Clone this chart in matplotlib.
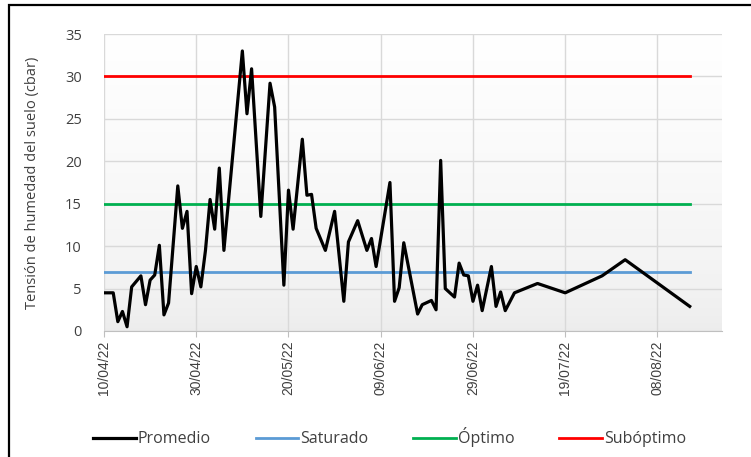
import matplotlib
matplotlib.use("Agg")
import matplotlib.pyplot as plt
import matplotlib.dates as mdates
from matplotlib.patches import Rectangle
import numpy as np
import pandas as pd

# datos
fechas = ["2022-04-10", "2022-04-12", "2022-04-13", "2022-04-14", "2022-04-15", "2022-04-16",
          "2022-04-18", "2022-04-19", "2022-04-20", "2022-04-21", "2022-04-22", "2022-04-23",
          "2022-04-24", "2022-04-26", "2022-04-27", "2022-04-28", "2022-04-29", "2022-04-30",
          "2022-05-01", "2022-05-02", "2022-05-03", "2022-05-04", "2022-05-05", "2022-05-06",
          "2022-05-10", "2022-05-11", "2022-05-12", "2022-05-14", "2022-05-16", "2022-05-17",
          "2022-05-19", "2022-05-20", "2022-05-21", "2022-05-23", "2022-05-24", "2022-05-25",
          "2022-05-26", "2022-05-28", "2022-05-30", "2022-06-01", "2022-06-02", "2022-06-04",
          "2022-06-06", "2022-06-07", "2022-06-08", "2022-06-11", "2022-06-12", "2022-06-13",
          "2022-06-14", "2022-06-17", "2022-06-18", "2022-06-20", "2022-06-21", "2022-06-22",
          "2022-06-23", "2022-06-25", "2022-06-26", "2022-06-27", "2022-06-28", "2022-06-29",
          "2022-06-30", "2022-07-01", "2022-07-03", "2022-07-04", "2022-07-05", "2022-07-06",
          "2022-07-08", "2022-07-13", "2022-07-19", "2022-07-27", "2022-08-01", "2022-08-15"]
promedio = [4.5, 4.5, 1.1, 2.3, 0.5, 5.2,
            6.5, 3.1, 6.0, 6.6, 10.1, 1.9,
            3.3, 17.1, 12.1, 14.1, 4.4, 7.6,
            5.2, 9.5, 15.5, 12.0, 19.2, 9.5,
            33.0, 25.6, 30.9, 13.5, 29.2, 26.4,
            5.4, 16.6, 12.0, 22.6, 16.0, 16.1,
            12.1, 9.5, 14.1, 3.5, 10.5, 13.0,
            9.5, 10.9, 7.6, 17.5, 3.5, 5.1,
            10.4, 2.0, 3.1, 3.6, 2.5, 20.1,
            5.0, 4.0, 8.0, 6.6, 6.5, 3.5,
            5.4, 2.4, 7.6, 2.9, 4.6, 2.4,
            4.5, 5.6, 4.5, 6.5, 8.4, 2.9]
saturado = 7
optimo = 15
suboptimo = 30
ticks_x = ["2022-04-10", "2022-04-30", "2022-05-20", "2022-06-09",
           "2022-06-29", "2022-07-19", "2022-08-08"]

x = pd.to_datetime(fechas)
n = len(x)

fig = plt.figure(figsize=(7.51, 4.57), dpi=100)
ax = fig.add_axes([104/751, 1-331/457, (722-104)/751, (331-34)/457])

# fondo degradado estilo excel (blanco arriba, gris claro abajo)
grad = np.linspace(0, 1, 256) ** 0.6
grad = grad.reshape(-1, 1)
cmap = matplotlib.colors.LinearSegmentedColormap.from_list('g', ['#ececec', '#ffffff'])
ax.imshow(grad, extent=[0, 1, 0, 1], transform=ax.transAxes, aspect='auto',
          cmap=cmap, origin='lower', zorder=0)

ax.plot(x, promedio, color='black', lw=2.3, label='Promedio', zorder=5)
ax.plot(x, [saturado]*n, color='#5b9bd5', lw=2.0, label='Saturado', zorder=4)
ax.plot(x, [optimo]*n, color='#00b050', lw=2.0, label='Óptimo', zorder=4)
ax.plot(x, [suboptimo]*n, color='#ff0000', lw=2.0, label='Subóptimo', zorder=4)

ax.set_ylim(0, 35)
ax.set_yticks(range(0, 36, 5))
ax.set_xlim(pd.Timestamp("2022-04-10"), pd.Timestamp("2022-08-22"))
ax.set_xticks(pd.to_datetime(ticks_x))
ax.xaxis.set_major_formatter(mdates.DateFormatter('%d/%m/%y'))

ax.grid(True, color='#d9d9d9', lw=1.0, zorder=1)
ax.set_axisbelow(True)
for s in ['top', 'right', 'left']:
    ax.spines[s].set_visible(False)
ax.spines['bottom'].set_color('#bfbfbf')
ax.tick_params(axis='y', length=0, pad=16, labelsize=10.5, labelcolor='#404040')
ax.tick_params(axis='x', length=4, color='#bfbfbf', labelsize=10, labelcolor='#404040',
               rotation=90, pad=3)
for t in ax.get_yticklabels():
    t.set_fontfamily('Open Sans')
for t in ax.get_xticklabels():
    t.set_fontfamily('Liberation Sans')

ax.set_ylabel('Tensión de humedad del suelo (cbar)', fontsize=10.5, color='#404040',
              family='Open Sans', labelpad=18)

fig.legend(loc='lower center', ncol=4, frameon=False, bbox_to_anchor=(0.519, -0.01),
           prop={'family': 'Open Sans', 'size': 11.5}, handlelength=2.65,
           handletextpad=0.15, columnspacing=2.8, labelcolor='#404040')

# marco negro
fig.patches.append(Rectangle((9/751, -0.1), 1.2, 1 - 5/457 + 0.1, transform=fig.transFigure,
                             fill=False, edgecolor='black', lw=1.6))

fig.savefig('out.png', dpi=100)
